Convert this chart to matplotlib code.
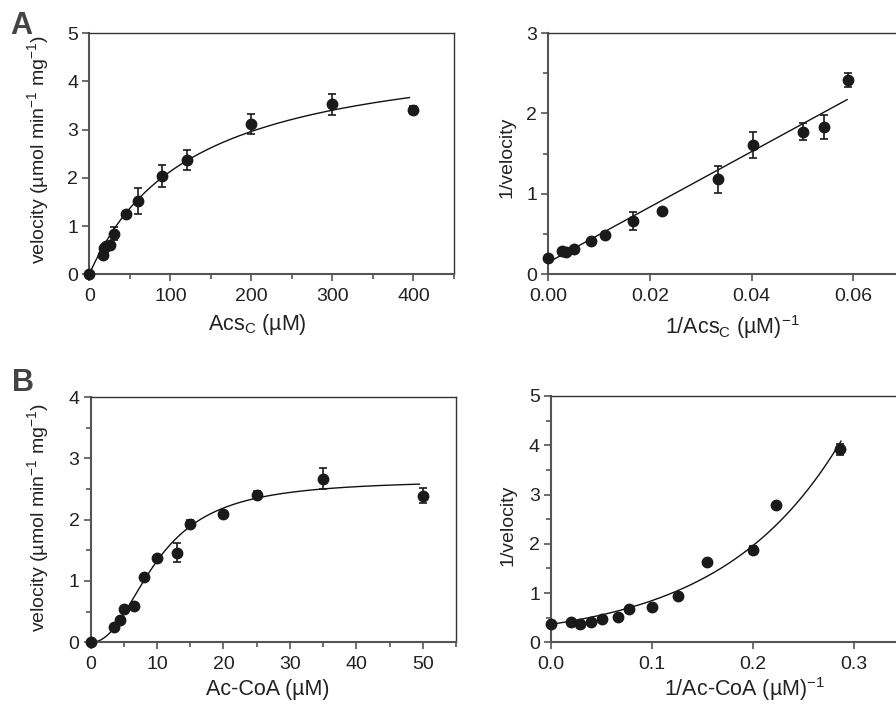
import numpy as np
import matplotlib
matplotlib.use("Agg")
import matplotlib.pyplot as plt

plt.rcParams['font.family'] = ['Liberation Sans', 'DejaVu Sans']
plt.rcParams['mathtext.fontset'] = 'custom'
plt.rcParams['mathtext.rm'] = 'Liberation Sans'
plt.rcParams['mathtext.it'] = 'Liberation Sans:italic'
plt.rcParams['mathtext.bf'] = 'Liberation Sans:bold'

# panel A, velocity vs AcsC
acs_conc = [0, 17, 18.5, 20, 25, 30, 45, 60, 90, 120, 200, 300, 400]
acs_vel = [0, 0.41, 0.54, 0.58, 0.61, 0.84, 1.24, 1.52, 2.03, 2.37, 3.12, 3.52, 3.40]
acs_err = [0, 0, 0, 0, 0, 0.13, 0, 0.27, 0.23, 0.21, 0.21, 0.21, 0.08]

# panel A, double reciprocal
acs_inv = [0, 0.0026, 0.0035, 0.0051, 0.0085, 0.0111, 0.0167, 0.0224, 0.0334, 0.0402, 0.0502, 0.0543, 0.0590]
acs_inv_vel = [0.20, 0.286, 0.278, 0.311, 0.42, 0.49, 0.66, 0.79, 1.18, 1.61, 1.77, 1.83, 2.41]
acs_inv_err = [0, 0, 0, 0, 0, 0.04, 0.11, 0, 0.17, 0.16, 0.105, 0.147, 0.087]

# panel B, velocity vs Ac-CoA
coa_conc = [0, 3.5, 4.5, 5, 6.5, 8, 10, 13, 15, 20, 25, 35, 50]
coa_vel = [0, 0.255, 0.36, 0.54, 0.60, 1.06, 1.37, 1.46, 1.93, 2.09, 2.41, 2.67, 2.39]
coa_err = [0, 0, 0, 0, 0, 0, 0, 0.155, 0.065, 0, 0.06, 0.17, 0.12]

# panel B, reciprocal
coa_inv = [0, 0.0199, 0.0285, 0.040, 0.0503, 0.0669, 0.0772, 0.1003, 0.1255, 0.155, 0.2003, 0.2232, 0.287]
coa_inv_vel = [0.365, 0.41, 0.365, 0.41, 0.47, 0.51, 0.68, 0.71, 0.93, 1.63, 1.87, 2.79, 3.92]
coa_inv_err = [0, 0, 0, 0, 0, 0, 0, 0, 0, 0, 0.08, 0, 0.11]

# fitted curve parameters
mm_vmax, mm_km = 4.84, 127.0
lb_icpt, lb_slope = 0.149, 34.4
hill_vmax, hill_k, hill_n = 2.65, 10.0, 2.25
rec_a, rec_k = 0.365, 8.4

W, H = 896, 705
fig = plt.figure(figsize=(W / 100, H / 100), dpi=100)


def px(l, r, t, b):
    return [l / W, 1 - b / H, (r - l) / W, (b - t) / H]


def style(ax, xlim, ylim, xmaj, ymaj, xmin=None, ymin=None):
    ax.set_xlim(*xlim)
    ax.set_ylim(*ylim)
    ax.set_xticks(xmaj)
    ax.set_yticks(ymaj)
    if xmin is not None:
        ax.set_xticks(xmin, minor=True)
    if ymin is not None:
        ax.set_yticks(ymin, minor=True)
    for s in ['left', 'bottom']:
        ax.spines[s].set_color('#555555')
        ax.spines[s].set_linewidth(1.5)
    for s in ['top', 'right']:
        ax.spines[s].set_color('#333333')
        ax.spines[s].set_linewidth(1.0)
    ax.tick_params(which='major', direction='out', length=5, width=1.2,
                   color='#555555', labelsize=14, labelcolor='#222222', pad=3)
    ax.tick_params(axis='x', which='major', pad=5)
    ax.tick_params(which='minor', direction='out', length=3.5, width=1.2,
                   color='#555555')


def place(ax, box, xl, yl):
    # label centres given in pixels
    l, r, t, b = box
    ax.xaxis.label.set_va('center')
    ax.yaxis.label.set_va('center')
    ax.xaxis.set_label_coords((xl[0] - l) / (r - l), (b - xl[1]) / (b - t))
    ax.yaxis.set_label_coords((yl[0] - l) / (r - l), (b - yl[1]) / (b - t))


dot = dict(fmt='o', color='#1a1a1a', ms=7.5, capsize=3, elinewidth=1.2,
           capthick=1.2, zorder=3, clip_on=False)
xlab = dict(fontsize=15.5, color='#222222')
ylab = dict(fontsize=14, color='#222222')

# A left
box1 = (89.3, 454, 33, 274.3)
ax1 = fig.add_axes(px(*box1))
style(ax1, (0, 450), (0, 5), [0, 100, 200, 300, 400], [0, 1, 2, 3, 4, 5],
      xmin=[50, 150, 250, 350, 450])
s = np.linspace(0, 395, 300)
ax1.plot(s, mm_vmax * s / (mm_km + s), color='#111111', lw=1.0)
ax1.errorbar(acs_conc, acs_vel, yerr=acs_err, **dot)
ax1.set_xlabel(r'Acs$_\mathrm{C}$ (µM)', **xlab)
ax1.set_ylabel(r'velocity (µmol min$^\mathrm{-1}$ mg$^\mathrm{-1}$)', **ylab)
place(ax1, box1, (257, 324), (38, 150))

# A right
box2 = (548.3, 904, 33, 274.3)
ax2 = fig.add_axes(px(*box2))
style(ax2, (0, 0.07), (0, 3), [0, 0.02, 0.04, 0.06], [0, 1, 2, 3],
      ymin=[0.5, 1.5, 2.5])
ax2.set_xticklabels(['0.00', '0.02', '0.04', '0.06'])
xi = np.linspace(0, 0.0588, 50)
ax2.plot(xi, lb_icpt + lb_slope * xi, color='#111111', lw=1.0)
ax2.errorbar(acs_inv, acs_inv_vel, yerr=acs_inv_err, **dot)
ax2.set_xlabel(r'1/Acs$_\mathrm{C}$ (µM)$^\mathrm{-1}$', **xlab)
ax2.set_ylabel('1/velocity', **ylab)
place(ax2, box2, (732, 327), (507, 157))

# B left
box3 = (90.5, 456, 397, 642.3)
ax3 = fig.add_axes(px(*box3))
style(ax3, (0, 55), (0, 4), [0, 10, 20, 30, 40, 50], [0, 1, 2, 3, 4],
      xmin=[5, 15, 25, 35, 45, 55], ymin=[0.5, 1.5, 2.5, 3.5])
c = np.linspace(0, 49.5, 300)
ax3.plot(c, hill_vmax * c ** hill_n / (hill_k ** hill_n + c ** hill_n),
         color='#111111', lw=1.0)
ax3.errorbar(coa_conc, coa_vel, yerr=coa_err, **dot)
ax3.set_xlabel('Ac-CoA (µM)', **xlab)
ax3.set_ylabel(r'velocity (µmol min$^\mathrm{-1}$ mg$^\mathrm{-1}$)', **ylab)
place(ax3, box3, (268, 690), (38, 518))

# B right
box4 = (551, 904, 396, 642.3)
ax4 = fig.add_axes(px(*box4))
style(ax4, (0, 0.35), (0, 5), [0, 0.1, 0.2, 0.3], [0, 1, 2, 3, 4, 5],
      ymin=[0.5, 1.5, 2.5, 3.5, 4.5])
ax4.set_xticklabels(['0.0', '0.1', '0.2', '0.3'])
r = np.linspace(0, 0.2875, 200)
ax4.plot(r, rec_a * np.exp(rec_k * r), color='#111111', lw=1.0)
ax4.errorbar(coa_inv, coa_inv_vel, yerr=coa_inv_err, **dot)
ax4.set_xlabel(r'1/Ac-CoA (µM)$^\mathrm{-1}$', **xlab)
ax4.set_ylabel('1/velocity', **ylab)
place(ax4, box4, (745, 689), (508, 525))

fig.text(10 / W, 1 - 34 / H, 'A', fontsize=22, fontweight='bold', color='#444444')
fig.text(12 / W, 1 - 391 / H, 'B', fontsize=22, fontweight='bold', color='#444444')

fig.savefig('out.png', dpi=100)
